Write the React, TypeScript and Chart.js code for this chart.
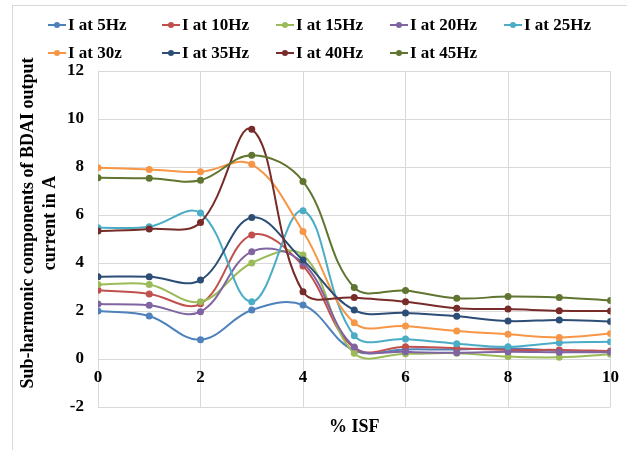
import React, { useEffect, useRef } from "react";
import { Chart, registerables } from "chart.js";

Chart.register(...registerables);

const isf = [0, 1, 2, 3, 4, 5, 6, 7, 8, 9, 10];
const seriesNames = [
  "I at 5Hz",
  "I at 10Hz",
  "I at 15Hz",
  "I at 20Hz",
  "I at 25Hz",
  "I at 30z",
  "I at 35Hz",
  "I at 40Hz",
  "I at 45Hz",
];
const i5Hz = [2.0, 1.79, 0.8, 2.04, 2.25, 0.35, 0.4, 0.4, 0.45, 0.35, 0.3];
const i10Hz = [2.86, 2.71, 2.3, 5.17, 3.88, 0.45, 0.51, 0.45, 0.38, 0.38, 0.33];
const i15Hz = [3.1, 3.1, 2.39, 4.0, 4.33, 0.24, 0.22, 0.24, 0.1, 0.07, 0.2];
const i20Hz = [2.29, 2.24, 1.97, 4.47, 4.0, 0.5, 0.3, 0.26, 0.3, 0.28, 0.28];
const i25Hz = [5.47, 5.51, 6.08, 2.39, 6.18, 0.97, 0.83, 0.64, 0.51, 0.68, 0.72];
const i30Hz = [7.97, 7.9, 7.8, 8.11, 5.31, 1.51, 1.37, 1.17, 1.03, 0.9, 1.06];
const i35Hz = [3.43, 3.43, 3.29, 5.9, 4.12, 2.04, 1.92, 1.78, 1.58, 1.63, 1.56];
const i40Hz = [5.33, 5.42, 5.69, 9.57, 2.8, 2.56, 2.39, 2.11, 2.08, 2.01, 2.0];
const i45Hz = [7.55, 7.53, 7.45, 8.49, 7.4, 2.98, 2.85, 2.53, 2.6, 2.56, 2.44];
const seriesValues = [i5Hz, i10Hz, i15Hz, i20Hz, i25Hz, i30Hz, i35Hz, i40Hz, i45Hz];
const seriesColors = [
  "#4F81BD",
  "#C0504D",
  "#9BBB59",
  "#8064A2",
  "#4BACC6",
  "#F79646",
  "#2C4D75",
  "#772C2A",
  "#5F7530",
];
const yTitleLines = ["Sub-harmonic components of BDAI output", "current in A"];
const xTitle = "% ISF";

const FONT = "'Liberation Serif', 'Times New Roman', serif";

const customPlugin = {
  id: "customDecor",
  afterDraw(chart: any) {
    const ctx = chart.ctx;
    ctx.save();
    // legend
    ctx.font = `bold 17px ${FONT}`;
    ctx.textBaseline = "middle";
    ctx.textAlign = "left";
    seriesNames.forEach((name, i) => {
      const col = i % 5;
      const row = Math.floor(i / 5);
      const x = 48 + col * 114;
      const y = 25 + row * 28;
      ctx.strokeStyle = seriesColors[i];
      ctx.lineWidth = 2;
      ctx.beginPath();
      ctx.moveTo(x, y);
      ctx.lineTo(x + 18, y);
      ctx.stroke();
      ctx.fillStyle = seriesColors[i];
      ctx.beginPath();
      ctx.arc(x + 9, y, 3, 0, Math.PI * 2);
      ctx.fill();
      ctx.fillStyle = "#000";
      ctx.fillText(name, x + 20, y + 1);
    });
    // y title
    ctx.font = `bold 18px ${FONT}`;
    ctx.textAlign = "center";
    ctx.textBaseline = "middle";
    ctx.fillStyle = "#000";
    ctx.translate(28, 223);
    ctx.rotate(-Math.PI / 2);
    yTitleLines.forEach((line, i) => {
      ctx.fillText(line, 0, i * 22);
    });
    ctx.restore();
  },
};

export default function App() {
  const canvasRef = useRef<HTMLCanvasElement | null>(null);

  useEffect(() => {
    const canvas = canvasRef.current;
    if (!canvas) return;
    const tickFont = { family: FONT, size: 17, weight: "bold" as const };
    const chart = new Chart(canvas, {
      type: "line",
      data: {
        datasets: seriesNames.map((name, i) => ({
          label: name,
          data: isf.map((x, j) => ({ x, y: seriesValues[i][j] })),
          borderColor: seriesColors[i],
          backgroundColor: seriesColors[i],
          borderWidth: 2,
          pointRadius: 3.5,
          pointBorderWidth: 0,
          tension: 0.38,
          fill: false,
          order: 9 - i,
        })),
      },
      options: {
        animation: false,
        responsive: false,
        devicePixelRatio: 1,
        layout: { padding: { left: 0, right: 16, top: 71, bottom: 0 } },
        plugins: {
          legend: { display: false },
          tooltip: { enabled: false },
        },
        scales: {
          x: {
            type: "linear",
            position: "bottom",
            min: 0,
            max: 10,
            ticks: { display: false, stepSize: 2 },
            grid: { color: "#d9d9d9", drawTicks: false, lineWidth: 1 },
            border: { display: false },
            title: {
              display: true,
              text: xTitle,
              color: "#000",
              font: { family: FONT, size: 18, weight: "bold" },
              padding: { top: 0, bottom: 12 },
            },
            afterFit: (s: any) => {
              s.height = 43;
            },
          },
          x2: {
            type: "linear",
            axis: "x",
            position: { y: 0 },
            min: 0,
            max: 10,
            ticks: { stepSize: 2, color: "#000", font: tickFont, padding: 8 },
            grid: { display: false, drawTicks: false },
            border: { display: false },
          } as any,
          y: {
            min: -2,
            max: 12,
            ticks: { stepSize: 2, color: "#000", font: tickFont, padding: 14 },
            grid: { color: "#d9d9d9", drawTicks: false, lineWidth: 1 },
            border: { display: false },
            afterFit: (s: any) => {
              s.width = 98;
            },
          },
        },
      },
      plugins: [customPlugin],
    });
    return () => chart.destroy();
  }, []);

  return (
    <div
      style={{
        position: "absolute",
        left: 0,
        top: 0,
        width: 627,
        height: 450,
        background: "#fff",
        overflow: "hidden",
      }}
    >
      <div
        style={{
          position: "absolute",
          left: 12,
          top: 5,
          width: 640,
          height: 470,
          borderLeft: "1px solid #d9d9d9",
          borderTop: "1px solid #d9d9d9",
        }}
      />
      <canvas
        ref={canvasRef}
        width={627}
        height={450}
        style={{ position: "absolute", left: 0, top: 0, width: 627, height: 450 }}
      />
    </div>
  );
}
